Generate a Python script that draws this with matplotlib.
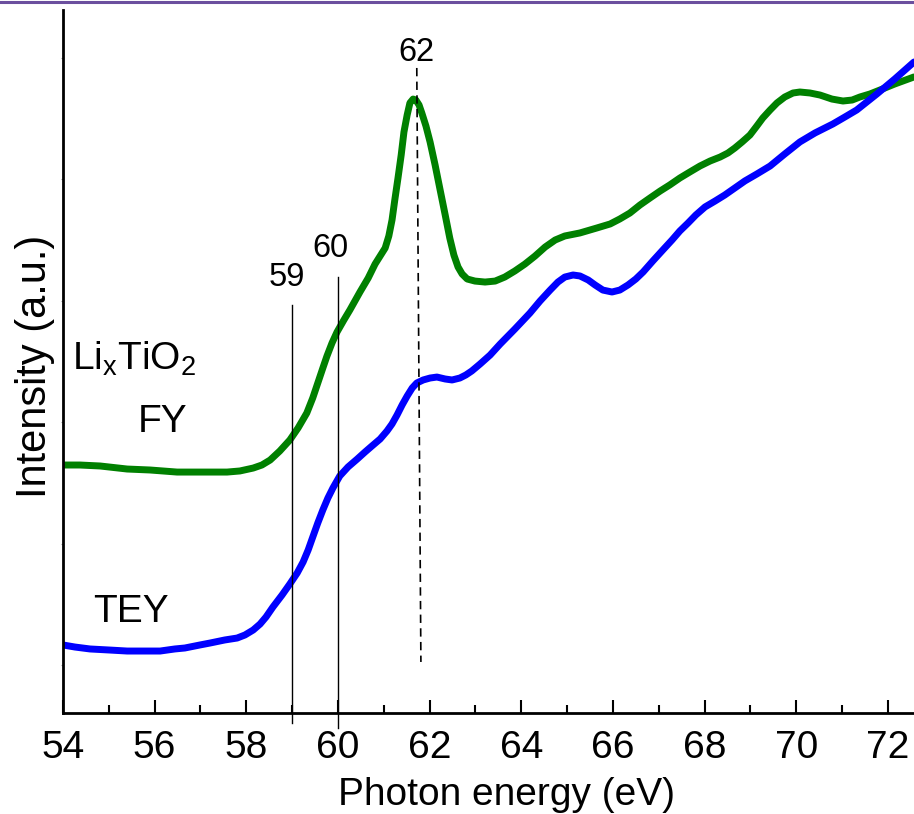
import matplotlib
matplotlib.use("Agg")
import matplotlib.pyplot as plt
from matplotlib.lines import Line2D
from matplotlib.ticker import MultipleLocator

plt.rcParams["font.family"] = ["Liberation Sans", "DejaVu Sans"]
plt.rcParams["mathtext.fontset"] = "custom"
plt.rcParams["mathtext.rm"] = "Liberation Sans"
plt.rcParams["mathtext.it"] = "Liberation Sans"

# Fluorescence yield (FY) spectrum
fy_energy = [54.00, 54.37, 54.81, 55.40, 55.90, 56.49, 56.99, 57.58, 57.86, 58.15,
             58.34, 58.52, 58.73, 58.95, 59.13, 59.32, 59.45, 59.56, 59.67, 59.76,
             59.87, 59.98, 60.13, 60.26, 60.48, 60.66, 60.81, 60.92, 61.03, 61.11,
             61.18, 61.24, 61.31, 61.38, 61.44, 61.51, 61.57, 61.64, 61.70, 61.77,
             61.83, 61.92, 62.01, 62.12, 62.23, 62.34, 62.44, 62.53, 62.62, 62.71,
             62.82, 62.99, 63.21, 63.43, 63.64, 63.86, 64.08, 64.30, 64.52, 64.74,
             64.95, 65.28, 65.65, 65.94, 66.15, 66.37, 66.59, 66.81, 67.03, 67.24,
             67.46, 67.68, 67.90, 68.12, 68.34, 68.51, 68.66, 68.82, 68.99, 69.14,
             69.27, 69.43, 69.58, 69.75, 69.93, 70.08, 70.30, 70.52, 70.78, 71.02,
             71.22, 71.39, 71.61, 71.83, 72.15, 72.57]
fy_intensity = [1.646, 1.646, 1.638, 1.613, 1.605, 1.588, 1.588, 1.588, 1.597, 1.621,
                1.646, 1.687, 1.761, 1.852, 1.951, 2.074, 2.198, 2.321, 2.444, 2.543,
                2.650, 2.741, 2.840, 2.922, 3.070, 3.185, 3.300, 3.366, 3.432, 3.531,
                3.663, 3.827, 4.008, 4.198, 4.387, 4.527, 4.626, 4.658, 4.650, 4.609,
                4.543, 4.436, 4.305, 4.115, 3.909, 3.704, 3.514, 3.374, 3.276, 3.218,
                3.177, 3.160, 3.152, 3.160, 3.193, 3.243, 3.300, 3.366, 3.440, 3.498,
                3.531, 3.556, 3.597, 3.630, 3.671, 3.720, 3.786, 3.844, 3.901, 3.951,
                4.008, 4.058, 4.107, 4.148, 4.181, 4.214, 4.255, 4.305, 4.362, 4.436,
                4.502, 4.568, 4.626, 4.675, 4.708, 4.716, 4.708, 4.691, 4.658, 4.642,
                4.650, 4.675, 4.700, 4.733, 4.782, 4.840]

# Total electron yield (TEY) spectrum
tey_energy = [54.00, 54.26, 54.59, 55.03, 55.40, 55.79, 56.12, 56.44, 56.66, 56.99,
              57.21, 57.53, 57.80, 57.97, 58.15, 58.30, 58.43, 58.58, 58.78, 58.95,
              59.11, 59.24, 59.35, 59.45, 59.56, 59.67, 59.78, 59.89, 60.04, 60.22,
              60.42, 60.59, 60.74, 60.92, 61.07, 61.18, 61.29, 61.40, 61.51, 61.62,
              61.72, 61.86, 62.01, 62.16, 62.34, 62.49, 62.66, 62.79, 62.92, 63.10,
              63.32, 63.54, 63.86, 64.19, 64.41, 64.63, 64.80, 64.95, 65.13, 65.28,
              65.46, 65.61, 65.78, 65.98, 66.15, 66.33, 66.50, 66.66, 66.87, 67.09,
              67.29, 67.46, 67.64, 67.81, 68.01, 68.23, 68.44, 68.66, 68.88, 69.14,
              69.43, 69.75, 70.08, 70.41, 70.80, 71.06, 71.32, 71.54, 71.76, 72.15,
              72.57]
tey_intensity = [0.165, 0.148, 0.132, 0.123, 0.115, 0.115, 0.115, 0.132, 0.140, 0.165,
                 0.181, 0.206, 0.222, 0.247, 0.288, 0.337, 0.395, 0.477, 0.576, 0.667,
                 0.757, 0.848, 0.947, 1.053, 1.169, 1.276, 1.374, 1.457, 1.556, 1.630,
                 1.695, 1.753, 1.802, 1.860, 1.926, 1.984, 2.058, 2.140, 2.214, 2.280,
                 2.321, 2.346, 2.362, 2.370, 2.354, 2.346, 2.362, 2.387, 2.420, 2.477,
                 2.551, 2.642, 2.765, 2.897, 2.996, 3.086, 3.152, 3.193, 3.210, 3.202,
                 3.169, 3.128, 3.086, 3.070, 3.086, 3.128, 3.177, 3.235, 3.325, 3.416,
                 3.498, 3.572, 3.638, 3.704, 3.770, 3.819, 3.868, 3.926, 3.984, 4.041,
                 4.107, 4.206, 4.305, 4.379, 4.453, 4.510, 4.568, 4.634, 4.700, 4.823,
                 4.963]

# Marker lines at 59 and 60 eV: (energy, bottom, top)
solid_markers = [(59.0, -0.48, 2.96), (60.0, -0.52, 3.19)]
marker_labels = ["59", "60"]
# Dashed marker near 62 eV
dashed_marker_energy = [61.72, 61.81]
dashed_marker_intensity = [4.914, 0.025]

x_ticks = [54, 56, 58, 60, 62, 64, 66, 68, 70, 72]

fig = plt.figure(figsize=(9.14, 8.14), dpi=100)
ax = fig.add_axes([63 / 914, 101 / 814, 1 - 63 / 914, 703 / 814])

ax.plot(fy_energy, fy_intensity, color="#008000", lw=5, solid_capstyle="round",
        solid_joinstyle="round")
ax.plot(tey_energy, tey_intensity, color="#0000ff", lw=5, solid_capstyle="round",
        solid_joinstyle="round")

for e, lo, hi in solid_markers:
    ax.plot([e, e], [lo, hi], color="black", lw=1.0, clip_on=False)
ax.text(58.89, 3.19, marker_labels[0], fontsize=23.5, ha="center", va="center")
ax.text(59.83, 3.43, marker_labels[1], fontsize=23.5, ha="center", va="center")

ax.plot(dashed_marker_energy, dashed_marker_intensity, color="black", lw=1.2,
        dashes=(5, 3.2))
ax.text(61.72, 5.04, "62", fontsize=23.5, ha="center", va="center")

ax.text(54.2, 2.428, r"Li$_\mathrm{x}$TiO$_2$", fontsize=28, ha="left",
        va="baseline")
ax.text(56.18, 2.0, "FY", fontsize=28, ha="center", va="center")
ax.text(55.48, 0.436, "TEY", fontsize=28, ha="center", va="center")

ax.set_xlim(54, 72.57)
ax.set_ylim(-0.395, 5.391)

ax.set_xticks(x_ticks)
ax.xaxis.set_minor_locator(MultipleLocator(1))
ax.tick_params(axis="x", which="major", direction="in", length=9.5, width=1.5,
               labelsize=28, pad=12)
ax.tick_params(axis="x", which="minor", direction="in", length=5.5, width=1.5)
ax.set_yticks([0, 1, 2, 3, 4, 5])
ax.tick_params(axis="y", which="major", direction="out", length=1.5, width=0.8,
               color="#999999", labelleft=False)

for side in ("top", "right"):
    ax.spines[side].set_visible(False)
for side in ("left", "bottom"):
    ax.spines[side].set_linewidth(2.0)

fig.text(507 / 914, 1 - 805 / 814, "Photon energy (eV)", fontsize=28,
         ha="center", va="baseline")
fig.text(35 / 914, 1 - 366 / 814, "Intensity (a.u.)", fontsize=30,
         rotation=90, ha="center", va="center")

fig.add_artist(Line2D([0, 1], [1 - 1.5 / 814] * 2, color="#6b4f9e", lw=2.2))

fig.savefig("out.png", dpi=100)
